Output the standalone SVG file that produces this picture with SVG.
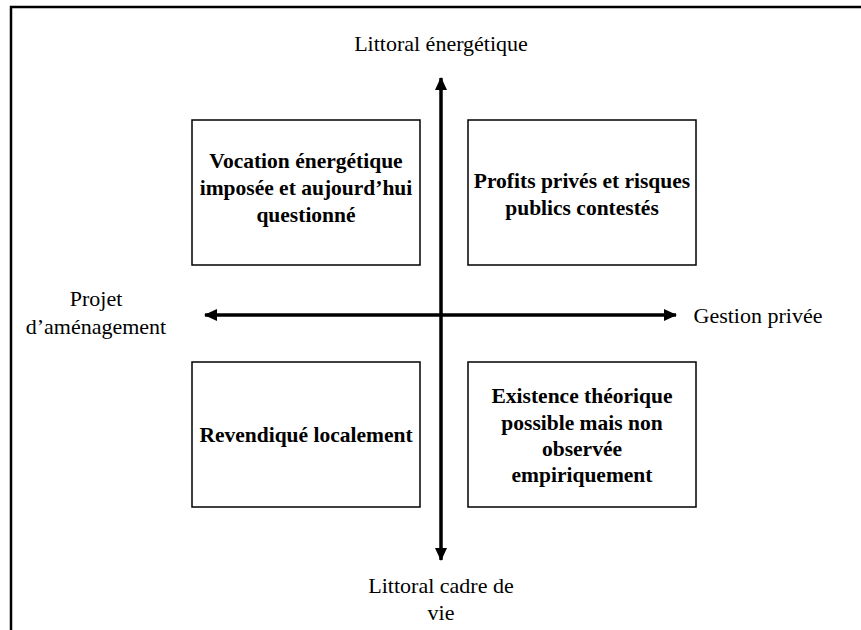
<svg xmlns="http://www.w3.org/2000/svg" width="861" height="630" viewBox="0 0 861 630">
<style>
.box{fill:#fff;stroke:#000;stroke-width:1.5}
.bt{font-family:"Liberation Serif","Times New Roman",serif;font-weight:bold;font-size:21.5px;text-anchor:middle;fill:#000}
.lb{font-family:"Liberation Serif","Times New Roman",serif;font-size:22px;text-anchor:middle;fill:#000}
.ax{stroke:#000;stroke-width:3.5;fill:none}
</style>
<defs>
<marker id="ah" viewBox="0 0 13 12" refX="12" refY="6" markerWidth="13" markerHeight="12" markerUnits="userSpaceOnUse" orient="auto-start-reverse">
<path d="M0,0 L13,6 L0,12 Z" fill="#000"/>
</marker>
</defs>
<rect width="861" height="630" fill="#fff"/>
<path d="M11,630 V7 H861" fill="none" stroke="#000" stroke-width="2.5"/>
<g id="connectors">
<line class="ax" x1="441" y1="560" x2="441" y2="78" marker-start="url(#ah)" marker-end="url(#ah)"/>
<line class="ax" x1="205" y1="315" x2="676" y2="315" marker-start="url(#ah)" marker-end="url(#ah)"/>
</g>
<g id="box-tl"><rect class="box" x="192" y="120" width="228" height="145"/>
<text class="bt" x="306" y="168">Vocation énergétique</text>
<text class="bt" x="306" y="195">imposée et aujourd’hui</text>
<text class="bt" x="306" y="222">questionné</text></g>
<g id="box-tr"><rect class="box" x="468" y="120" width="228" height="145"/>
<text class="bt" x="582" y="188">Profits privés et risques</text>
<text class="bt" x="582" y="215">publics contestés</text></g>
<g id="box-bl"><rect class="box" x="192" y="362" width="228" height="145"/>
<text class="bt" x="306" y="442">Revendiqué localement</text></g>
<g id="box-br"><rect class="box" x="468" y="362" width="228" height="145"/>
<text class="bt" x="582" y="403">Existence théorique</text>
<text class="bt" x="582" y="430">possible mais non</text>
<text class="bt" x="582" y="456">observée</text>
<text class="bt" x="582" y="482">empiriquement</text></g>
<g id="label-top"><text class="lb" x="441" y="51">Littoral énergétique</text></g>
<g id="label-left"><text class="lb" x="96" y="306">Projet</text><text class="lb" x="96" y="334">d’aménagement</text></g>
<g id="label-right"><text class="lb" x="758" y="323">Gestion privée</text></g>
<g id="label-bottom"><text class="lb" x="441" y="593">Littoral cadre de</text><text class="lb" x="441" y="620">vie</text></g>
</svg>
